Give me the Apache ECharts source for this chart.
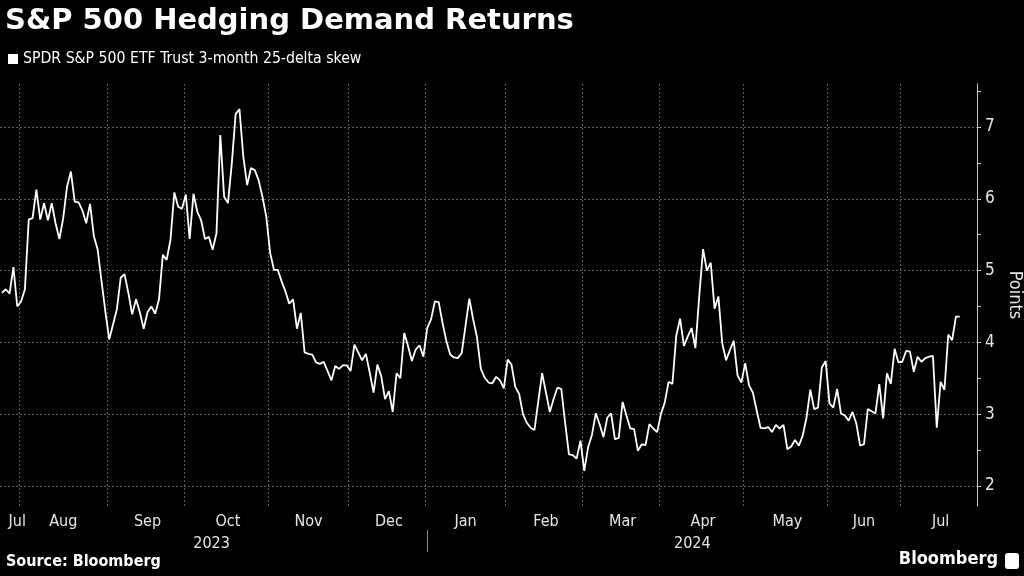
<!DOCTYPE html>
<html>
<head>
<meta charset="utf-8">
<script src="https://cdn.jsdelivr.net/npm/echarts@6/dist/echarts.min.js"></script>
<style>
  html, body { margin: 0; padding: 0; background: #000; }
  #chart { width: 1024px; height: 576px; }
</style>
</head>
<body>
<div id="chart"></div>
<script>
// skew values, one per trading day
var jul23 = [4.69, 4.74, 4.68, 5.05, 4.50];
var aug23 = [4.57, 4.74, 5.71, 5.73, 6.13, 5.71, 5.94, 5.70, 5.94, 5.66, 5.44, 5.73, 6.17, 6.38, 5.96, 5.95, 5.84, 5.66, 5.93, 5.48, 5.29, 4.85, 4.43];
var sep23 = [4.04, 4.25, 4.46, 4.90, 4.95, 4.69, 4.39, 4.60, 4.42, 4.19, 4.42, 4.50, 4.40, 4.60, 5.22, 5.15, 5.43, 6.09, 5.89, 5.86];
var oct23 = [6.06, 5.44, 6.07, 5.82, 5.70, 5.44, 5.47, 5.29, 5.52, 6.89, 6.03, 5.94, 6.49, 7.18, 7.25, 6.59, 6.19, 6.43, 6.40, 6.26, 6.03, 5.75];
var nov23 = [5.25, 5.01, 5.01, 4.85, 4.71, 4.54, 4.60, 4.19, 4.41, 3.86, 3.84, 3.83, 3.72, 3.70, 3.73, 3.60, 3.47, 3.67, 3.63, 3.68, 3.68];
var dec23 = [3.60, 3.97, 3.86, 3.75, 3.84, 3.58, 3.30, 3.69, 3.53, 3.21, 3.32, 3.03, 3.57, 3.50, 4.13, 3.95, 3.74, 3.90, 3.96, 3.80];
var jan24 = [4.20, 4.32, 4.57, 4.56, 4.27, 4.02, 3.83, 3.79, 3.78, 3.85, 4.23, 4.61, 4.32, 4.07, 3.63, 3.51, 3.44, 3.43, 3.52, 3.47, 3.36];
var feb24 = [3.76, 3.69, 3.38, 3.28, 3.00, 2.88, 2.81, 2.78, 3.18, 3.57, 3.30, 3.03, 3.21, 3.37, 3.35, 2.88, 2.44, 2.43, 2.38, 2.63];
var mar24 = [2.21, 2.54, 2.71, 3.01, 2.86, 2.68, 2.95, 3.01, 2.65, 2.67, 3.17, 2.98, 2.80, 2.79, 2.49, 2.58, 2.57, 2.86, 2.80, 2.75];
var apr24 = [3.00, 3.16, 3.45, 3.42, 4.09, 4.33, 3.95, 4.08, 4.20, 3.92, 4.64, 5.30, 5.00, 5.11, 4.47, 4.64, 3.99, 3.75, 3.89, 4.02, 3.54, 3.44];
var may24 = [3.71, 3.40, 3.30, 3.05, 2.81, 2.80, 2.82, 2.75, 2.85, 2.80, 2.85, 2.51, 2.55, 2.64, 2.56, 2.70, 2.95, 3.34, 3.07, 3.09, 3.65, 3.74];
var jun24 = [3.15, 3.09, 3.35, 3.01, 2.98, 2.91, 3.03, 2.87, 2.56, 2.58, 3.07, 3.04, 3.01, 3.42, 2.94, 3.57, 3.42, 3.91, 3.72];
var jul24 = [3.73, 3.88, 3.87, 3.59, 3.80, 3.73, 3.78, 3.80, 3.81, 2.81, 3.45, 3.34, 4.11, 4.03, 4.36, 4.36];

// axis runs over NYSE trading days
var firstDay = '2023-07-25';
var lastDay = '2024-07-29';
var holidays = ['2023-09-04', '2023-11-23', '2023-12-25', '2024-01-01', '2024-01-15',
  '2024-02-19', '2024-03-29', '2024-05-27', '2024-06-19', '2024-07-04'];
var monthNames = ['Jan', 'Feb', 'Mar', 'Apr', 'May', 'Jun', 'Jul', 'Aug', 'Sep', 'Oct', 'Nov', 'Dec'];
var yTicks = [2, 2.5, 3, 3.5, 4, 4.5, 5, 5.5, 6, 6.5, 7, 7.5];
var yLabels = [2, 3, 4, 5, 6, 7];
var seriesName = 'SPDR S&P 500 ETF Trust 3-month 25-delta skew';

var dates = [];
var d = new Date(firstDay + 'T00:00:00Z');
var end = new Date(lastDay + 'T00:00:00Z');
while (d <= end) {
  var s = d.toISOString().slice(0, 10);
  var wd = d.getUTCDay();
  if (wd !== 0 && wd !== 6 && holidays.indexOf(s) < 0) dates.push(s);
  d = new Date(d.getTime() + 86400000);
}

var values = [].concat(jul23, aug23, sep23, oct23, nov23, dec23, jan24, feb24, mar24, apr24, may24, jun24, jul24);
var lastData = values.length - 1;
while (values.length < dates.length) values.push(null);

// month starts, mid-month label spots, year split
var monthStart = {};
var monthLabel = {};
var groups = [];
dates.forEach(function (s, i) {
  var key = s.slice(0, 7);
  if (!groups.length || groups[groups.length - 1].key !== key) groups.push({ key: key, start: i, n: 0 });
  groups[groups.length - 1].n++;
});
groups.forEach(function (g, k) {
  if (k > 0) monthStart[g.start] = true;
  // first month is cut short, keep its label clear of the edge
  monthLabel[k === 0 ? g.start + g.n - 1 : g.start + Math.floor(g.n / 2)] = true;
});
var janIdx = dates.findIndex(function (s) { return s.slice(0, 4) === '2024'; });
var yearLabel = {};
yearLabel[Math.floor(janIdx / 2)] = true;
yearLabel[Math.floor((janIdx + lastData) / 2)] = true;

var font = '"DejaVu Sans Condensed", "DejaVu Sans", sans-serif';

var myChart = echarts.init(document.getElementById('chart'));
var option = {
  backgroundColor: '#000',
  animation: false,
  textStyle: { fontFamily: font },
  title: {
    text: 'S&P 500 Hedging Demand Returns',
    left: 0, top: 2,
    textStyle: { color: '#fff', fontSize: 29, fontWeight: 'bold', fontFamily: '"DejaVu Sans", sans-serif' }
  },
  legend: {
    data: [seriesName],
    left: 8, top: 51,
    padding: 0,
    icon: 'rect', itemWidth: 10, itemHeight: 10,
    textStyle: { color: '#fff', fontSize: 15.7, fontFamily: font }
  },
  grid: { left: 0, right: 47, top: 84, bottom: 70, containLabel: false, outerBoundsMode: 'none' },
  xAxis: [
    {
      type: 'category',
      data: dates,
      boundaryGap: true,
      axisLine: { show: false },
      axisTick: { show: false },
      axisLabel: {
        interval: function (i) { return !!monthLabel[i]; },
        formatter: function (v) { return monthNames[+v.slice(5, 7) - 1]; },
        color: '#e6e6e6', fontSize: 16, margin: 8, fontFamily: font
      },
      splitLine: {
        show: true,
        interval: function (i) { return !!monthStart[i]; },
        lineStyle: { color: '#5a5a5a', type: [2, 2], width: 1 }
      }
    },
    {
      // year row with the divider at the turn of the year
      type: 'category',
      data: dates,
      boundaryGap: false,
      position: 'bottom',
      offset: 24,
      axisLine: { show: false },
      axisTick: {
        show: true, length: 22,
        interval: function (i) { return i === janIdx; },
        lineStyle: { color: '#8a8a8a' }
      },
      axisLabel: {
        interval: function (i) { return !!yearLabel[i]; },
        formatter: function (v) { return v.slice(0, 4); },
        color: '#e6e6e6', fontSize: 16, margin: 6, fontFamily: font
      },
      splitLine: { show: false }
    }
  ],
  yAxis: {
    type: 'value',
    position: 'right',
    min: 1.72, max: 7.6,
    axisLine: { show: true, lineStyle: { color: '#c8c8c8', width: 1 } },
    axisTick: { show: true, length: 4, customValues: yTicks, lineStyle: { color: '#c8c8c8' } },
    axisLabel: { customValues: yLabels, color: '#e6e6e6', fontSize: 17, margin: 8, fontFamily: font },
    splitLine: { show: true, lineStyle: { type: [2, 2], color: ['#5a5a5a', 'rgba(0,0,0,0)'] } },
    name: 'Points',
    nameLocation: 'middle',
    nameRotate: -90,
    nameGap: 26,
    nameTextStyle: { color: '#e6e6e6', fontSize: 18, fontFamily: font }
  },
  series: [
    {
      name: seriesName,
      type: 'line',
      data: values,
      showSymbol: false,
      connectNulls: false,
      itemStyle: { color: '#fff' },
      lineStyle: { color: '#fff', width: 1.8 }
    }
  ],
  graphic: [
    {
      type: 'text', left: 6, top: 554,
      style: { text: 'Source: Bloomberg', fill: '#fff', font: 'bold 16px ' + font }
    },
    {
      type: 'text', right: 26, top: 550,
      style: { text: 'Bloomberg', fill: '#fff', font: '600 18px ' + font }
    },
    {
      type: 'rect', right: 5, top: 553,
      shape: { width: 14, height: 16, r: 3 },
      style: { fill: '#fff' }
    }
  ]
};
myChart.setOption(option);
</script>
</body>
</html>
